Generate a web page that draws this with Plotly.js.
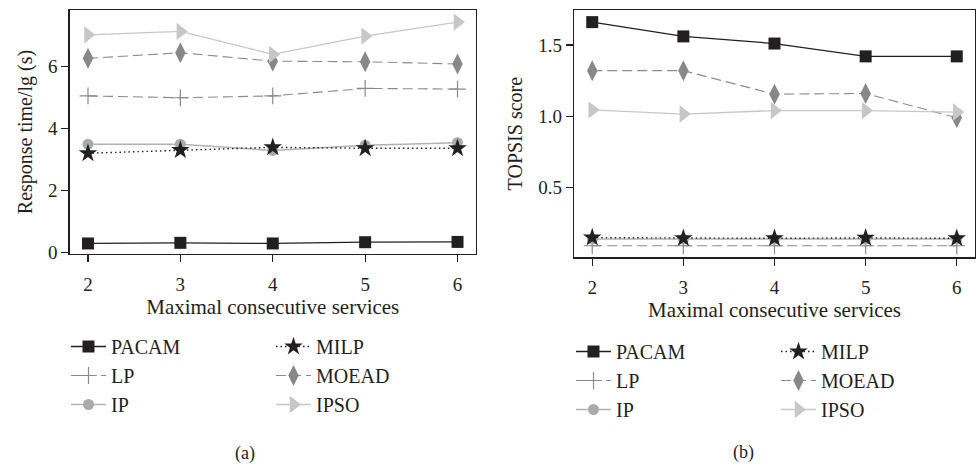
<!DOCTYPE html>
<html>
<head>
<meta charset="utf-8">
<script src="https://cdn.plot.ly/plotly-3.0.1.min.js"></script>
<style>
  html, body { margin: 0; padding: 0; background: #fff; }
  #chart { width: 976px; height: 466px; }
</style>
</head>
<body>
<div id="chart"></div>
<script>
// Maximal consecutive services on the x axis
const categories = [2, 3, 4, 5, 6];
const seriesNames = ['PACAM', 'LP', 'IP', 'MILP', 'MOEAD', 'IPSO'];

// (a) Response time / lg (s)
const rtPACAM = [0.30, 0.32, 0.30, 0.34, 0.35];
const rtLP    = [5.06, 5.00, 5.06, 5.30, 5.28];
const rtIP    = [3.50, 3.50, 3.30, 3.47, 3.55];
const rtMILP  = [3.21, 3.31, 3.40, 3.37, 3.37];
const rtMOEAD = [6.27, 6.45, 6.18, 6.16, 6.09];
const rtIPSO  = [7.03, 7.14, 6.40, 6.99, 7.44];

// (b) TOPSIS score
const tsPACAM = [1.66, 1.56, 1.51, 1.42, 1.42];
const tsLP    = [0.093, 0.093, 0.093, 0.093, 0.093];
const tsIP    = [0.14, 0.14, 0.14, 0.14, 0.14];
const tsMILP  = [0.150, 0.145, 0.145, 0.148, 0.145];
const tsMOEAD = [1.32, 1.32, 1.155, 1.16, 0.99];
const tsIPSO  = [1.045, 1.016, 1.04, 1.04, 1.03];

const yTickVals1 = [0, 2, 4, 6];
const yTickVals2 = [0.5, 1.0, 1.5];
const yTickText2 = ['0.5', '1.0', '1.5'];

const INK = '#231f20';
const FONT = 'Liberation Serif, Times New Roman, serif';

// per-series look: line colour/dash and marker
const styles = {
  PACAM: { line: { color: INK, width: 1.3, dash: 'solid' }, marker: { symbol: 'square', size: 12, color: INK } },
  LP:    { line: { color: '#8a8a8c', width: 1.1, dash: '10px,5px' }, marker: { symbol: 'cross-thin', size: 12, color: '#8a8a8c', line: { color: '#8a8a8c', width: 1.2 } } },
  IP:    { line: { color: '#b1b2b4', width: 1.5, dash: 'solid' }, marker: { symbol: 'circle', size: 11, color: '#a9aaad' } },
  MILP:  { line: { color: INK, width: 1.4, dash: '1.5px,3px' }, marker: { symbol: 'star', size: 14, color: INK } },
  MOEAD: { line: { color: '#8a8b8d', width: 1.1, dash: '10px,5px' }, marker: { symbol: 'diamond-tall', size: 15, color: '#87888a' } },
  IPSO:  { line: { color: '#c6c7c9', width: 1.3, dash: 'solid' }, marker: { symbol: 'triangle-right', size: 15, color: '#c6c7c9' } }
};

const panelA = { PACAM: rtPACAM, LP: rtLP, IP: rtIP, MILP: rtMILP, MOEAD: rtMOEAD, IPSO: rtIPSO };
const panelB = { PACAM: tsPACAM, LP: tsLP, IP: tsIP, MILP: tsMILP, MOEAD: tsMOEAD, IPSO: tsIPSO };

// left legend column holds the first three series, right column the rest
const legendColumn = { PACAM: 0, LP: 0, IP: 0, MILP: 1, MOEAD: 1, IPSO: 1 };

function makeTraces(values, xa, ya, legends) {
  return seriesNames.map(name => ({
    type: 'scatter',
    mode: 'lines+markers',
    name: name,
    x: categories,
    y: values[name],
    xaxis: xa,
    yaxis: ya,
    legend: legends[legendColumn[name]],
    line: styles[name].line,
    marker: styles[name].marker,
    cliponaxis: false
  }));
}

const data = [
  ...makeTraces(panelA, 'x', 'y', ['legend', 'legend2']),
  ...makeTraces(panelB, 'x2', 'y2', ['legend3', 'legend4'])
];

const W = 976, H = 466;
const px = v => v / W;
const py = v => 1 - v / H;

const tickFont = { family: FONT, size: 19, color: INK };
const titleFont = { family: FONT, size: 20, color: INK };
const xTitleFont = { family: FONT, size: 21, color: INK };

const baseAxis = {
  showgrid: false, zeroline: false,
  showline: true, linecolor: INK, linewidth: 1.2, mirror: true,
  ticks: 'outside', ticklen: 7, tickwidth: 1.2, tickcolor: INK,
  tickfont: tickFont, fixedrange: true
};

const legendBase = {
  orientation: 'v', xanchor: 'left', yanchor: 'top',
  font: { family: FONT, size: 20, color: INK },
  bgcolor: 'rgba(0,0,0,0)', borderwidth: 0,
  itemwidth: 35, tracegroupgap: 0, itemclick: false, itemdoubleclick: false
};

const layout = {
  width: W, height: H,
  margin: { l: 0, r: 0, t: 0, b: 0 },
  paper_bgcolor: '#fff', plot_bgcolor: '#fff',
  font: { family: FONT, color: INK },
  showlegend: true,
  xaxis: Object.assign({}, baseAxis, {
    domain: [px(69.5), px(476)], range: [1.8, 6.2],
    tickvals: categories, anchor: 'y', ticklabelstandoff: 6,
    title: { text: 'Maximal consecutive services', font: xTitleFont, standoff: 5 }
  }),
  yaxis: Object.assign({}, baseAxis, {
    domain: [py(254), py(10)], range: [-0.04, 7.83],
    tickvals: yTickVals1, anchor: 'x',
    title: { text: 'Response time/lg (s)', font: titleFont, standoff: 10 }
  }),
  xaxis2: Object.assign({}, baseAxis, {
    domain: [px(574), px(975)], range: [1.8, 6.2],
    tickvals: categories, anchor: 'y2', ticklabelstandoff: 6,
    title: { text: 'Maximal consecutive services', font: xTitleFont, standoff: 5 }
  }),
  yaxis2: Object.assign({}, baseAxis, {
    domain: [py(257.3), py(10)], range: [0.012, 1.745],
    tickvals: yTickVals2, ticktext: yTickText2, anchor: 'x2',
    title: { text: 'TOPSIS score', font: titleFont, standoff: 10 }
  }),
  legend:  Object.assign({}, legendBase, { x: px(66),  y: py(327) }),
  legend2: Object.assign({}, legendBase, { x: px(271), y: py(327) }),
  legend3: Object.assign({}, legendBase, { x: px(571), y: py(332) }),
  legend4: Object.assign({}, legendBase, { x: px(776), y: py(332) }),
  annotations: [
    { text: '(a)', x: px(245), y: py(453), xref: 'paper', yref: 'paper', showarrow: false,
      xanchor: 'center', yanchor: 'middle', font: { family: FONT, size: 18, color: INK } },
    { text: '(b)', x: px(743), y: py(452), xref: 'paper', yref: 'paper', showarrow: false,
      xanchor: 'center', yanchor: 'middle', font: { family: FONT, size: 18, color: INK } }
  ]
};

Plotly.newPlot('chart', data, layout, { staticPlot: true, displayModeBar: false });
</script>
</body>
</html>
